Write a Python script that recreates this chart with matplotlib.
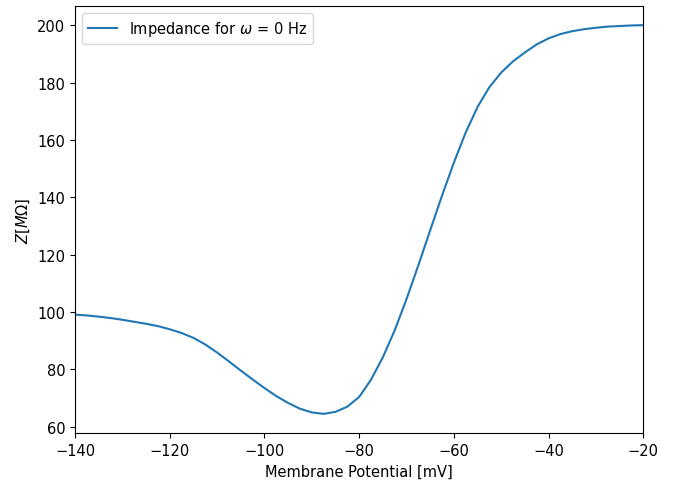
import matplotlib

matplotlib.use("Agg")
import matplotlib.pyplot as plt

plt.rcParams["font.size"] = 10.5

# membrane potential [mV] and steady-state impedance [MOhm]
v_mem = [-140, -137.5, -135, -132.5, -130, -127.5, -125, -122.5, -120, -117.5,
         -115, -112.5, -110, -107.5, -105, -102.5, -100, -97.5, -95, -92.5,
         -90, -87.5, -85, -82.5, -80, -77.5, -75, -72.5, -70, -67.5,
         -65, -62.5, -60, -57.5, -55, -52.5, -50, -47.5, -45, -42.5,
         -40, -37.5, -35, -32.5, -30, -27.5, -25, -22.5, -20]
z_imp = [99.1, 98.8, 98.4, 97.9, 97.3, 96.6, 95.9, 95.1, 94.0, 92.7,
         91.0, 88.7, 85.9, 82.8, 79.6, 76.5, 73.5, 70.7, 68.3, 66.3,
         65.0, 64.5, 65.2, 67.0, 70.4, 76.4, 84.2, 93.6, 104.5, 116.3,
         128.5, 140.6, 152.1, 162.6, 171.5, 178.4, 183.5, 187.4, 190.5, 193.3,
         195.4, 196.9, 197.9, 198.6, 199.1, 199.5, 199.7, 199.9, 200.0]

fig = plt.figure(figsize=(6.86, 4.81), dpi=100)
ax = fig.add_axes([0.1093, 0.0971, 0.8285, 0.8889])
ax.plot(v_mem, z_imp, label=r"Impedance for $\omega$ = 0 Hz")
ax.set_xlim(-140, -20)
ax.set_xlabel("Membrane Potential [mV]")
ax.set_ylabel(r"$Z[M\Omega]$")
ax.legend(loc="upper left")
fig.savefig("out.png", dpi=100)
